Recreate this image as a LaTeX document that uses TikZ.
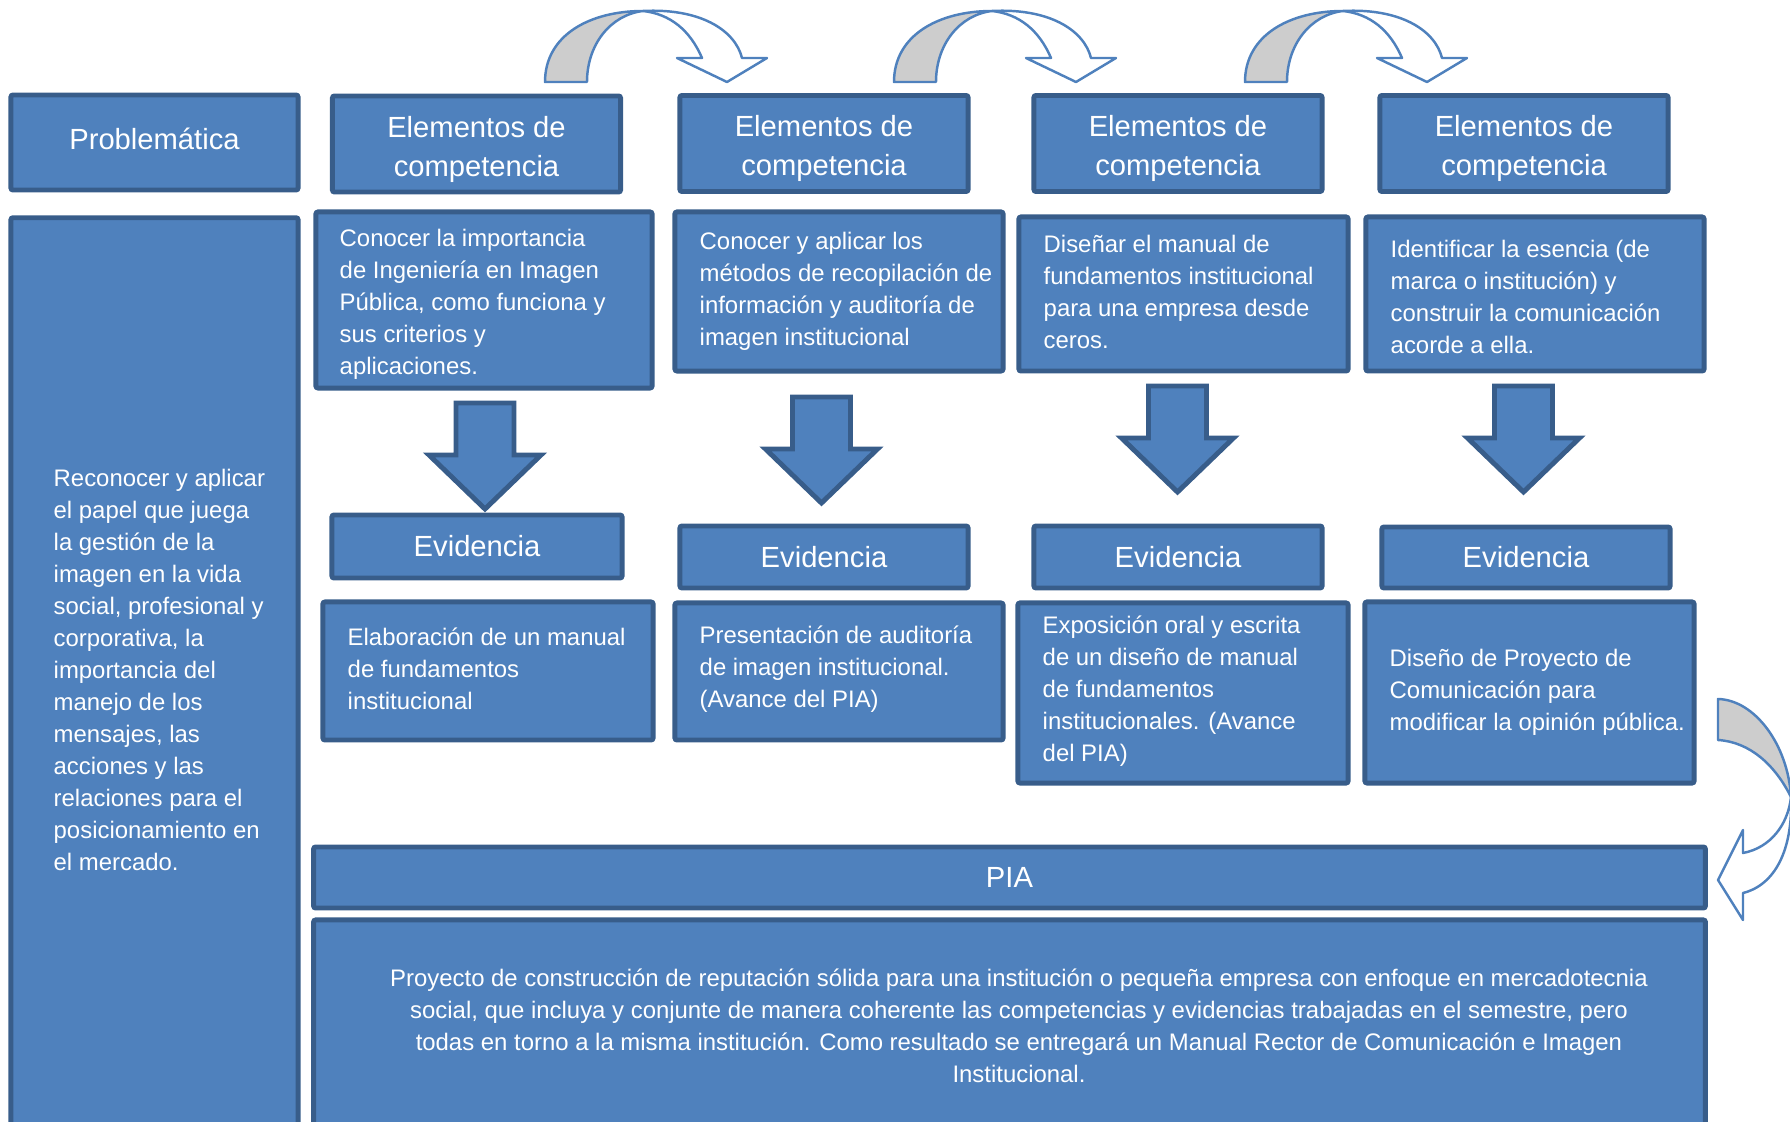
\documentclass[tikz,border=0pt]{standalone}
\usepackage{fontspec}
\setmainfont{Liberation Sans}
\definecolor{boxblue}{HTML}{4F81BD}
\definecolor{boxedge}{HTML}{385D8A}
\definecolor{backgray}{HTML}{CDCDCD}

\tikzset{
  box/.style={draw=boxedge, fill=boxblue, line width=1.4pt, rounded corners=0.6pt, inner sep=0pt, text=white},
  head/.style={box, minimum width=2.88cm, minimum height=0.96cm, align=center, font=\fontsize{8.3}{11.1}\selectfont},
  txt/.style={anchor=west, inner sep=0pt, align=left, text=white, font=\fontsize{6.8}{9.1}\selectfont},
  downarrow/.style={draw=boxedge, fill=boxblue, line width=1.4pt, line join=miter},
  curvearrow/.style={draw=boxblue, line width=0.7pt, line join=round},
}

\begin{document}
\begin{tikzpicture}[x=0.01cm, y=-0.01cm]
  \useasboundingbox (0,0) rectangle (1790,1122);

  % curved arrows between the columns
  \foreach \d in {0,349,700} {
    \begin{scope}[shift={(\d,0)}]
      \filldraw[curvearrow, fill=white] (643,11) .. controls (700,8) and (735,30) .. (742,58)
        -- (767,58) -- (727,82) -- (677,58) -- (702,58)
        .. controls (690,30) and (670,14) .. (643,11) -- cycle;
      \filldraw[curvearrow, fill=backgray] (545,82) .. controls (545,35) and (590,11) .. (643,11)
        .. controls (610,15) and (587,45) .. (587,82) -- cycle;
    \end{scope}
  }

  % left column
  \node[head, minimum width=2.87cm, minimum height=0.95cm, text depth=2pt] (prob) at (154.5,142.5) {Problemática};
  \node[box, minimum width=2.87cm, minimum height=9.22cm] (goal) at (154.5,679) {};
  \node[txt] (goaltext) at (53,670) {Reconocer y aplicar\\el papel que juega\\la gestión de la\\imagen en la vida\\social, profesional y\\corporativa, la\\importancia del\\manejo de los\\mensajes, las\\acciones y las\\relaciones para el\\posicionamiento en\\el mercado.};

  % headers
  \node[head, text height=20pt] (e1) at (476.5,144) {Elementos de\\competencia};
  \node[head, text height=20pt] (e2) at (824,143.5) {Elementos de\\competencia};
  \node[head, text height=20pt] (e3) at (1178,143.5) {Elementos de\\competencia};
  \node[head, text height=20pt] (e4) at (1524,143.5) {Elementos de\\competencia};

  % competencias
  \node[box, minimum width=3.36cm, minimum height=1.76cm] (c1) at (484,300) {};
  \node[box, minimum width=3.28cm, minimum height=1.59cm] (c2) at (839,291.5) {};
  \node[box, minimum width=3.29cm, minimum height=1.54cm] (c3) at (1183.5,294) {};
  \node[box, minimum width=3.38cm, minimum height=1.54cm] (c4) at (1535,294) {};
  \node[txt] (c1text) at (339,304) {Conocer la importancia\\de Ingeniería en Imagen\\Pública, como funciona y\\sus criterios y\\aplicaciones.};
  \node[txt] (c2text) at (699,291) {Conocer y aplicar los\\métodos de recopilación de\\información y auditoría de\\imagen institucional};
  \node[txt] (c3text) at (1043,291.5) {Diseñar el manual de\\fundamentos institucional\\para una empresa desde\\ceros.};
  \node[txt] (c4text) at (1390,297) {Identificar la esencia (de\\marca o institución) y\\construir la comunicación\\acorde a ella.};

  % block arrows
  \foreach \x/\y in {485/403, 821.5/397, 1177.5/386, 1523.5/386}
    \draw[downarrow] (\x-29,\y) -- (\x+29,\y) -- (\x+29,\y+52) -- (\x+56,\y+52)
      -- (\x,\y+106) -- (\x-56,\y+52) -- (\x-29,\y+52) -- cycle;

  % evidencias
  \node[head, minimum width=2.90cm, minimum height=0.63cm] (v1) at (477,546.5) {Evidencia};
  \node[head, minimum height=0.62cm] (v2) at (824,557) {Evidencia};
  \node[head, minimum height=0.62cm] (v3) at (1178,557) {Evidencia};
  \node[head, minimum height=0.61cm] (v4) at (1526,557.5) {Evidencia};

  \node[box, minimum width=3.30cm, minimum height=1.38cm] (t1) at (488,671) {};
  \node[box, minimum width=3.28cm, minimum height=1.37cm] (t2) at (839,671.5) {};
  \node[box, minimum width=3.30cm, minimum height=1.80cm] (t3) at (1183,693) {};
  \node[box, minimum width=3.29cm, minimum height=1.81cm] (t4) at (1529.5,692.5) {};
  \node[txt] (t1text) at (347,669) {Elaboración de un manual\\de fundamentos\\institucional};
  \node[txt] (t2text) at (699,669) {Presentación de auditoría\\de imagen institucional.\\(Avance del PIA)};
  \node[txt] (t3text) at (1042,691.5) {Exposición oral y escrita\\de un diseño de manual\\de fundamentos\\institucionales. (Avance\\del PIA)};
  \node[txt] (t4text) at (1389,692) {Diseño de Proyecto de\\Comunicación para\\modificar la opinión pública.};

  % arrow down to the PIA
  \filldraw[curvearrow, fill=white] (1791,797) .. controls (1788,825) and (1770,848) .. (1743,853)
    -- (1743,830) -- (1718,880) -- (1743,920) -- (1743,893)
    .. controls (1775,885) and (1793,850) .. (1791,797) -- cycle;
  \filldraw[curvearrow, fill=backgray] (1718,699) .. controls (1755,700) and (1788,745) .. (1791,797)
    .. controls (1775,765) and (1750,742) .. (1718,740) -- cycle;

  % PIA
  \node[head, minimum width=13.91cm, minimum height=0.61cm] (pia) at (1009.5,877.5) {PIA};
  \node[box, minimum width=13.91cm, minimum height=2.2cm] (piabody) at (1009.5,1030) {};
  \node[txt, anchor=center, align=center] (piatext) at (1019,1026) {Proyecto de construcción de reputación sólida para una institución o pequeña empresa con enfoque en mercadotecnia\\social, que incluya y conjunte de manera coherente las competencias y evidencias trabajadas en el semestre, pero\\todas en torno a la misma institución. Como resultado se entregará un Manual Rector de Comunicación e Imagen\\Institucional.};
\end{tikzpicture}
\end{document}
